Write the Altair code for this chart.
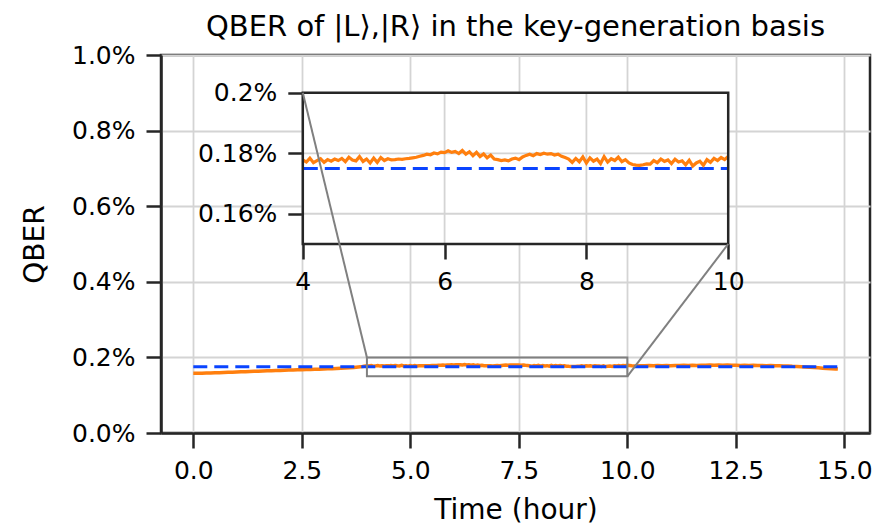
import altair as alt
import pandas as pd

TITLE = "QBER of |L⟩,|R⟩ in the key-generation basis"
X_TITLE = "Time (hour)"
Y_TITLE = "QBER"

# sample times (hours)
T_A = [round(0.1 * i, 2) for i in range(40)]            # 0.0 .. 3.9
T_B = [round(4 + 0.05 * i, 2) for i in range(121)]      # 4.00 .. 10.00
T_C = [round(10.1 + 0.1 * i, 2) for i in range(48)] + [14.85]

# QBER (%)
QBER_A = [0.1580, 0.1579, 0.1583, 0.1585, 0.1588, 0.1592, 0.1596, 0.1601, 0.1605, 0.1609,
          0.1614, 0.1619, 0.1623, 0.1628, 0.1631, 0.1636, 0.1641, 0.1645, 0.1649, 0.1652,
          0.1656, 0.1661, 0.1664, 0.1668, 0.1672, 0.1674, 0.1679, 0.1683, 0.1686, 0.1689,
          0.1693, 0.1698, 0.1701, 0.1706, 0.1712, 0.1718, 0.1724, 0.1733, 0.1745, 0.1758]
QBER_B = [0.1778, 0.1771, 0.1784, 0.1769, 0.1776, 0.1782, 0.1770, 0.1779, 0.1774, 0.1781,
          0.1776, 0.1783, 0.1772, 0.1787, 0.1778, 0.1775, 0.1789, 0.1773, 0.1781, 0.1768,
          0.1784, 0.1770, 0.1786, 0.1776, 0.1782, 0.1778, 0.1779, 0.1781, 0.1780, 0.1782,
          0.1783, 0.1785, 0.1787, 0.1790, 0.1793, 0.1797, 0.1795, 0.1801, 0.1798, 0.1804,
          0.1802, 0.1808, 0.1803, 0.1806, 0.1799, 0.1809, 0.1797, 0.1805, 0.1792, 0.1803,
          0.1789, 0.1798, 0.1785, 0.1794, 0.1781, 0.1779, 0.1776, 0.1778, 0.1775, 0.1781,
          0.1784, 0.1779, 0.1788, 0.1793, 0.1797, 0.1792, 0.1799, 0.1796, 0.1800, 0.1797,
          0.1799, 0.1794, 0.1797, 0.1790, 0.1786, 0.1781, 0.1770, 0.1783, 0.1772, 0.1788,
          0.1768, 0.1785, 0.1774, 0.1781, 0.1766, 0.1789, 0.1771, 0.1782, 0.1776, 0.1787,
          0.1772, 0.1779, 0.1768, 0.1763, 0.1761, 0.1760, 0.1762, 0.1765, 0.1764, 0.1776,
          0.1769, 0.1781, 0.1773, 0.1778, 0.1766, 0.1780, 0.1771, 0.1775, 0.1762, 0.1777,
          0.1758, 0.1768, 0.1774, 0.1760, 0.1779, 0.1770, 0.1783, 0.1776, 0.1786, 0.1779,
          0.1790]
QBER_C = [0.1778, 0.1772, 0.1781, 0.1776, 0.1783, 0.1777, 0.1785, 0.1779, 0.1786, 0.1782,
          0.1788, 0.1784, 0.1791, 0.1787, 0.1793, 0.1789, 0.1795, 0.1790, 0.1797, 0.1793,
          0.1799, 0.1794, 0.1797, 0.1792, 0.1795, 0.1789, 0.1793, 0.1787, 0.1790, 0.1784,
          0.1787, 0.1781, 0.1784, 0.1778, 0.1779, 0.1772, 0.1770, 0.1763, 0.1760, 0.1752,
          0.1745, 0.1738, 0.1731, 0.1724, 0.1716, 0.1709, 0.1702, 0.1696,
          0.1692]

# reference level (blue dashed)
REF_T = [0.0, 14.85]
REF_Q = [0.175, 0.175]

# axes
X_DOMAIN = [-0.744, 15.59]
Y_DOMAIN = [0.0, 1.0]
X_TICKS = [0.0, 2.5, 5.0, 7.5, 10.0, 12.5, 15.0]
Y_TICKS = [0.0, 0.2, 0.4, 0.6, 0.8, 1.0]

# inset
INSET_X = [4, 10]
INSET_Y = [0.15, 0.20]
INSET_X_TICKS = [4, 6, 8, 10]
INSET_Y_TICKS = [0.16, 0.18, 0.20]
INSET_BOUNDS = (0.2, 0.5, 0.6, 0.4)   # axes fraction: x0, y0, width, height

# style
W, H = 709, 378
FONT = "DejaVu Sans"
LBL = 25
TTL = 28
HEAD = 29
DARK = "#262626"
GRID = "#d4d4d4"
ORANGE = "#ff7f0e"
BLUE = "#0a44ff"
GRAY = "#808080"

df = pd.DataFrame({"t": T_A + T_B + T_C, "q": QBER_A + QBER_B + QBER_C})
df_in = df[(df.t >= INSET_X[0]) & (df.t <= INSET_X[1])]
df_ref = pd.DataFrame({"t": REF_T, "q": REF_Q})
df_ref_in = pd.DataFrame({"t": INSET_X, "q": REF_Q})
df_box = pd.DataFrame({"x": [INSET_X[0]], "x2": [INSET_X[1]], "y": [INSET_Y[0]], "y2": [INSET_Y[1]]})

fx0, fy0, fw, fh = INSET_BOUNDS
ix_range = [W * fx0, W * (fx0 + fw)]
iy_range = [H * (1 - fy0), H * (1 - fy0 - fh)]


def fx(f):
    return X_DOMAIN[0] + f * (X_DOMAIN[1] - X_DOMAIN[0])


def fy(f):
    return Y_DOMAIN[0] + f * (Y_DOMAIN[1] - Y_DOMAIN[0])


# connectors: inset corner (axes fraction) -> zoom box corner (data)
df_conn = pd.DataFrame({
    "x": [fx(fx0), fx(fx0 + fw)],
    "y": [fy(fy0 + fh), fy(fy0)],
    "x2": [INSET_X[0], INSET_X[1]],
    "y2": [INSET_Y[1], INSET_Y[0]],
})


def mx():
    return alt.Scale(domain=X_DOMAIN, nice=False, zero=False)


def my():
    return alt.Scale(domain=Y_DOMAIN, nice=False, zero=False)


def ix():
    return alt.Scale(domain=INSET_X, range=ix_range, nice=False, zero=False)


def iy():
    return alt.Scale(domain=INSET_Y, range=iy_range, nice=False, zero=False)


main_x_axis = alt.Axis(values=X_TICKS, format=".1f", grid=True, titlePadding=13,
                       labelPadding=10, orient="bottom")
main_y_axis = alt.Axis(values=Y_TICKS, labelExpr="format(datum.value, '.1f') + '%'",
                       grid=True, titlePadding=22, labelPadding=11, orient="left")

orange_main = alt.Chart(df).mark_line(color=ORANGE, strokeWidth=3.5).encode(
    x=alt.X("t:Q", scale=mx(), axis=main_x_axis, title=X_TITLE),
    y=alt.Y("q:Q", scale=my(), axis=main_y_axis, title=Y_TITLE),
)
blue_main = alt.Chart(df_ref).mark_line(color=BLUE, strokeWidth=3, strokeDash=[14, 7]).encode(
    x=alt.X("t:Q", scale=mx(), axis=None),
    y=alt.Y("q:Q", scale=my(), axis=None),
)
zoom_box = alt.Chart(df_box).mark_rect(fillOpacity=0, stroke=GRAY, strokeWidth=2).encode(
    x=alt.X("x:Q", scale=mx(), axis=None), x2="x2:Q",
    y=alt.Y("y:Q", scale=my(), axis=None), y2="y2:Q",
)

inset_x_axis = alt.Axis(values=INSET_X_TICKS, format="d", orient="bottom",
                        offset=-(H - iy_range[0]), grid=False, domain=False,
                        labelPadding=10)
inset_y_axis = alt.Axis(values=INSET_Y_TICKS, labelExpr="format(datum.value, '.2~f') + '%'",
                        orient="left", offset=-ix_range[0], grid=False, domain=False,
                        labelPadding=11)

inset_bg = alt.Chart(df_box).mark_rect(fill="white", strokeWidth=0).encode(
    x=alt.X("x:Q", scale=ix(), axis=inset_x_axis, title=None), x2="x2:Q",
    y=alt.Y("y:Q", scale=iy(), axis=inset_y_axis, title=None), y2="y2:Q",
)
df_gx = pd.DataFrame({"x": INSET_X_TICKS, "y": INSET_Y[0], "y2": INSET_Y[1]})
df_gy = pd.DataFrame({"y": INSET_Y_TICKS, "x": INSET_X[0], "x2": INSET_X[1]})
grid_x = alt.Chart(df_gx).mark_rule(color=GRID, strokeWidth=1.8).encode(
    x=alt.X("x:Q", scale=ix(), axis=None),
    y=alt.Y("y:Q", scale=iy(), axis=None), y2="y2:Q",
)
grid_y = alt.Chart(df_gy).mark_rule(color=GRID, strokeWidth=1.8).encode(
    y=alt.Y("y:Q", scale=iy(), axis=None),
    x=alt.X("x:Q", scale=ix(), axis=None), x2="x2:Q",
)
blue_in = alt.Chart(df_ref_in).mark_line(color=BLUE, strokeWidth=3, strokeDash=[15, 7]).encode(
    x=alt.X("t:Q", scale=ix(), axis=None),
    y=alt.Y("q:Q", scale=iy(), axis=None),
)
orange_in = alt.Chart(df_in).mark_line(color=ORANGE, strokeWidth=3.2).encode(
    x=alt.X("t:Q", scale=ix(), axis=None),
    y=alt.Y("q:Q", scale=iy(), axis=None),
)
frame_in = alt.Chart(df_box).mark_rect(fillOpacity=0, stroke=DARK, strokeWidth=2.5).encode(
    x=alt.X("x:Q", scale=ix(), axis=None), x2="x2:Q",
    y=alt.Y("y:Q", scale=iy(), axis=None), y2="y2:Q",
)

conn = alt.Chart(df_conn).mark_rule(color=GRAY, strokeWidth=2).encode(
    x=alt.X("x:Q", scale=mx(), axis=None),
    y=alt.Y("y:Q", scale=my(), axis=None),
    x2="x2:Q", y2="y2:Q",
)

chart = alt.layer(
    orange_main, blue_main, zoom_box,
    inset_bg, grid_x, grid_y, blue_in, orange_in, frame_in,
    conn,
).resolve_scale(
    x="independent", y="independent"
).properties(
    width=W, height=H,
    title=alt.TitleParams(text=TITLE, font=FONT, fontSize=HEAD, fontWeight="normal",
                          color="black", anchor="middle", offset=1),
    autosize=alt.AutoSizeParams(type="none"),
    padding={"left": 153, "top": 47, "right": 6, "bottom": 98},
).configure_view(
    stroke=DARK, strokeWidth=2.5
).configure_axis(
    domainColor=DARK, domainWidth=2.5, tickColor=DARK, tickWidth=2.5, tickSize=15,
    labelFont=FONT, labelFontSize=LBL, labelColor="black",
    labelFlush=False,
    titleFont=FONT, titleFontSize=TTL, titleColor="black", titleFontWeight="normal",
    gridColor=GRID, gridWidth=1.8,
)

chart.save("out.html", embed_options={"renderer": "svg", "actions": False})
